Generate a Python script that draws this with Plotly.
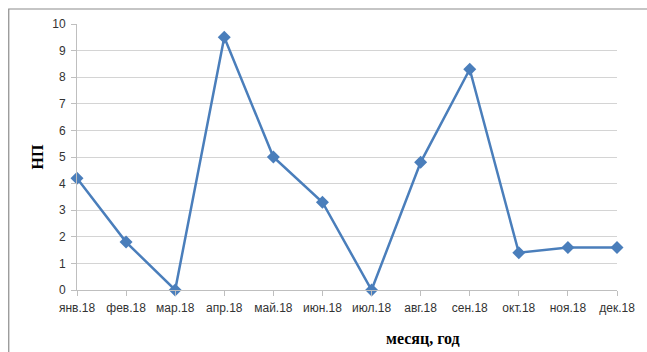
import plotly.graph_objects as go

months = ["янв.18", "фев.18", "мар.18", "апр.18", "май.18", "июн.18",
          "июл.18", "авг.18", "сен.18", "окт.18", "ноя.18", "дек.18"]
np_values = [4.2, 1.8, 0.0, 9.5, 5.0, 3.3, 0.0, 4.8, 8.3, 1.4, 1.6, 1.6]
y_ticks = list(range(0, 11))

W, H = 647, 352
ML, MR, MT, MB = 77, 24, 24, 62
PW, PH = W - ML - MR, H - MT - MB

def px_x(x):
    return (x - ML) / PW

def px_y(y):
    return (H - MB - y) / PH

line_color = "#4A7EBB"
tick_font = dict(family="Liberation Sans", size=12, color="#333333")

fig = go.Figure()
fig.add_trace(go.Scatter(
    x=list(range(len(months))), y=np_values,
    mode="lines+markers",
    line=dict(color=line_color, width=2.5),
    marker=dict(symbol="diamond", size=10, color=line_color),
    cliponaxis=False,
    showlegend=False,
))

fig.update_xaxes(
    range=[0, len(months) - 1],
    tickmode="array", tickvals=list(range(len(months))), ticktext=months,
    showgrid=False, zeroline=False,
    showline=True, linecolor="#BFBFBF", linewidth=1,
    ticks="outside", ticklen=5, tickcolor="#BFBFBF",
    ticklabelstandoff=2,
    tickfont=tick_font,
)
fig.update_yaxes(
    range=[0, 10],
    tickmode="array", tickvals=y_ticks,
    showgrid=True, gridcolor="#D4D4D4", gridwidth=1,
    zeroline=False,
    showline=True, linecolor="#BFBFBF", linewidth=1,
    ticks="outside", ticklen=5, tickcolor="#BFBFBF",
    ticklabelstandoff=3,
    tickfont=tick_font,
)

fig.update_layout(
    width=W, height=H,
    margin=dict(l=ML, r=MR, t=MT, b=MB),
    paper_bgcolor="white", plot_bgcolor="white",
    shapes=[dict(
        type="rect", xref="paper", yref="paper",
        x0=px_x(8), x1=px_x(W + 20), y0=px_y(H + 20), y1=px_y(9),
        line=dict(color="#8C8C8C", width=1.2), fillcolor="rgba(0,0,0,0)",
        layer="below",
    )],
    annotations=[
        dict(text="<b>НП</b>", xref="paper", yref="paper",
             x=px_x(37), y=px_y(157), showarrow=False, textangle=-90,
             font=dict(family="Liberation Serif", size=16, color="#000000"),
             xanchor="center", yanchor="middle"),
        dict(text="<b>месяц, год</b>", xref="paper", yref="paper",
             x=px_x(427), y=px_y(338), showarrow=False,
             font=dict(family="Liberation Serif", size=16, color="#000000"),
             xanchor="center", yanchor="middle"),
    ],
)

fig.write_html("out.html")
